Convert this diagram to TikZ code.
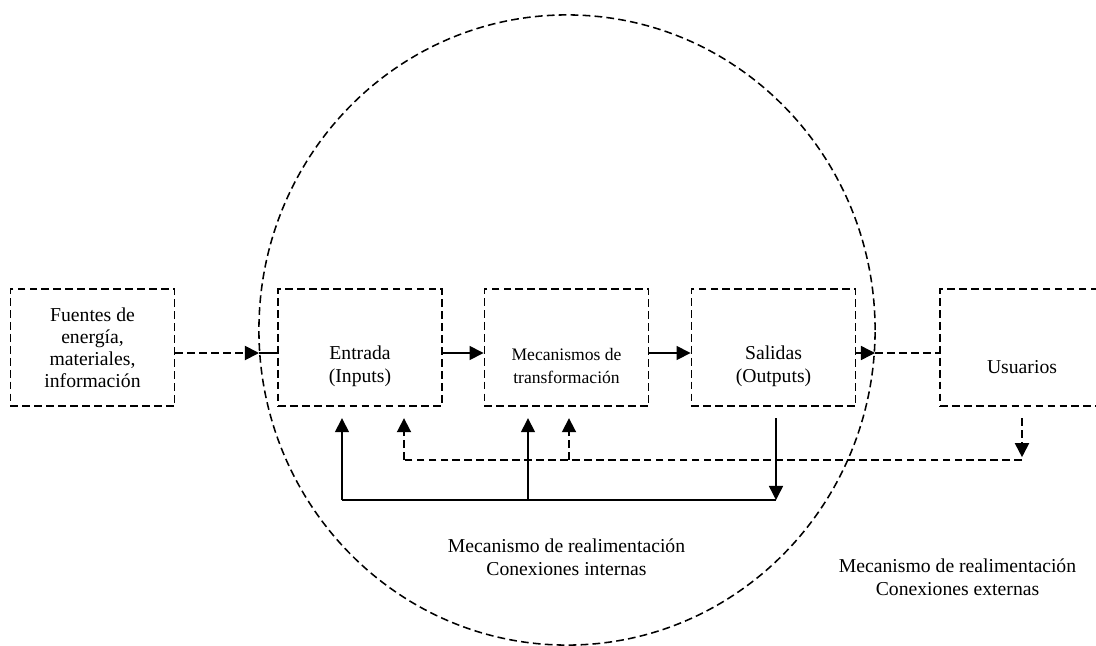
\documentclass[tikz,border=0pt]{standalone}
\usepackage{fontspec}
\setmainfont{Liberation Serif}
\usetikzlibrary{arrows.meta, positioning}

\begin{document}
\begin{tikzpicture}[
    x=0.025cm, y=-0.025cm,                 % one unit is one pixel of the sketch
    >={Triangle[length=10pt,width=10pt]},  % arrow tip style
    line width=1pt,                        % solid connectors
    dsh/.style={dash pattern=on 5.5pt off 3pt, line width=1.3pt},
    box/.style={draw, dsh, minimum width=4.1cm, minimum height=2.925cm, inner sep=0pt},
    txt/.style={align=center, font=\fontsize{14}{16.4}\selectfont}
  ]
  \clip (0,0) rectangle (1096,645);
  \fill[white] (0,0) rectangle (1096,645);

  % boundary of the system
  \draw[dsh, line width=1.1pt] (567,330) ellipse [x radius=7.7cm, y radius=7.875cm];

  % blocks
  \node[box] (fuentes)    at (92.5,347.5)  {};
  \node[box] (entrada)    at (360,347.5)   {};
  \node[box] (mecanismos) at (566.5,347.5) {};
  \node[box] (salidas)    at (773.5,347.5) {};
  \node[box] (usuarios)   at (1022,347.5)  {};

  \node[txt, font=\fontsize{14}{15.6}\selectfont] (fuentesT) at (92.5,348)
    {Fuentes de\\energía,\\materiales,\\información};
  \node[txt] (entradaT) at (360,366) {Entrada\\(Inputs)};
  \node[txt, font=\fontsize{12.5}{16.4}\selectfont] (mecanismosT) at (566.5,366)
    {Mecanismos de\\transformación};
  \node[txt] (salidasT)  at (773.5,366) {Salidas\\(Outputs)};
  \node[txt] (usuariosT) at (1022,367)  {Usuarios};

  % main flow
  \coordinate (ay)   at (0,353);
  \coordinate (inL)  at (259,353);
  \coordinate (outR) at (875,353);
  \draw[dsh, ->] (fuentes.east |- ay) -- (inL);
  \draw (inL) -- (entrada.west |- ay);
  \draw[->] (entrada.east |- ay) -- (mecanismos.west |- ay);
  \draw[->] (mecanismos.east |- ay) -- (salidas.west |- ay);
  \draw[->] (salidas.east |- ay) -- (outR);
  \draw[dsh] (outR) -- (usuarios.west |- ay);

  % internal feedback
  \coordinate (intR) at (776,500);
  \coordinate (intM) at (528,500);
  \coordinate (intL) at (342,500);
  \draw[->, shorten <=8pt] (salidas.south -| intR) -- (intR);
  \draw (intR) -- (intL);
  \draw[->, shorten >=8pt] (intL) -- (intL |- entrada.south);
  \draw[->, shorten >=8pt] (intM) -- (intM |- mecanismos.south);

  % external feedback
  \coordinate (extR) at (1022,460);
  \coordinate (extM) at (569,460);
  \coordinate (extL) at (404,460);
  \draw[dsh, ->, shorten <=8pt, shorten >=2pt] (usuarios.south) -- (extR);
  \draw[dsh] (extR) -- (extL);
  \draw[dsh, ->, shorten >=8pt] (extL) -- (extL |- entrada.south);
  \draw[dsh, ->, shorten >=8pt] (extM) -- (extM |- mecanismos.south);

  \node[txt] (intlbl) at (566.5,557) {Mecanismo de realimentación\\Conexiones internas};
  \node[txt] (extlbl) at (957.5,577) {Mecanismo de realimentación\\Conexiones externas};
\end{tikzpicture}
\end{document}
